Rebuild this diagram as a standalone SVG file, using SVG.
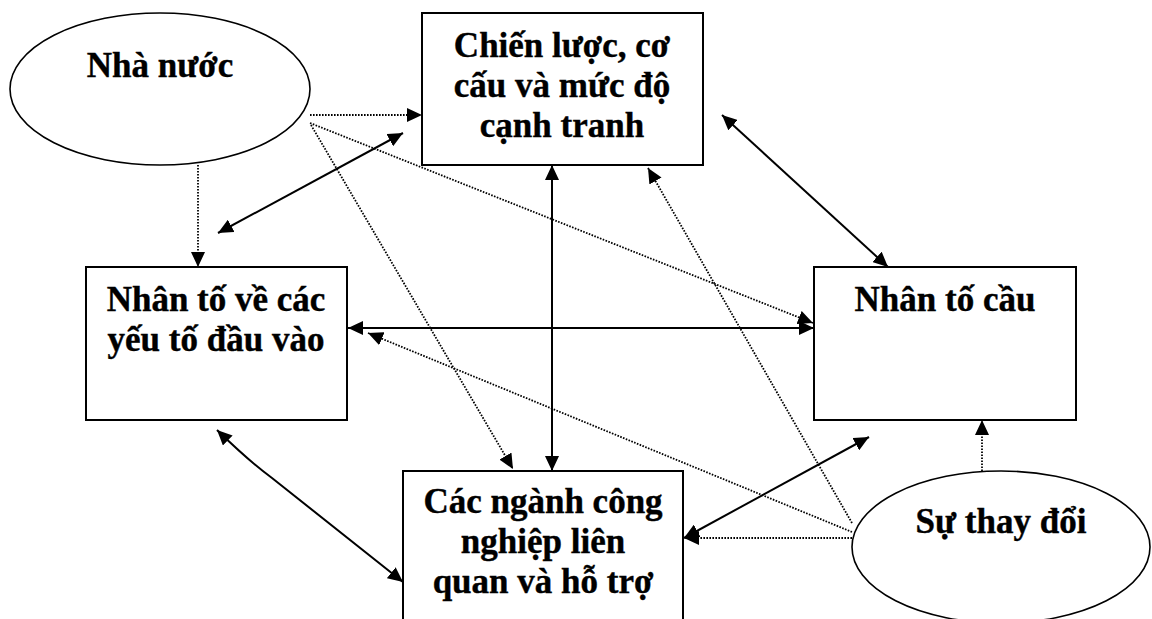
<svg xmlns="http://www.w3.org/2000/svg" width="1152" height="619" viewBox="0 0 1152 619">
  <style>
    .box { fill: #fff; stroke: #000; stroke-width: 2; }
    .oval { fill: #fff; stroke: #000; stroke-width: 1.6; }
    .lbl { font-family: "Liberation Serif", "Times New Roman", serif; font-weight: bold; font-size: 35px; fill: #000; stroke: #000; stroke-width: 0.4; text-anchor: middle; }
    .solid { fill: none; stroke: #000; stroke-width: 2; marker-start: url(#head); marker-end: url(#head); }
    .dot { fill: none; stroke: #000; stroke-width: 1.8; stroke-dasharray: 1.6 1.4; marker-end: url(#head); }
  </style>
  <defs>
    <marker id="head" markerUnits="userSpaceOnUse" markerWidth="16" markerHeight="14" refX="15" refY="7" orient="auto-start-reverse">
      <path d="M0,0 L15,7 L0,14 z" fill="#000" stroke="none"/>
    </marker>
  </defs>
  <rect width="1152" height="619" fill="#fff"/>

  <!-- nodes -->
  <g id="nha-nuoc">
    <ellipse class="oval" cx="160" cy="89" rx="150" ry="76"/>
    <text class="lbl" x="160" y="77">Nhà nước</text>
  </g>
  <g id="chien-luoc">
    <rect class="box" x="422" y="13" width="281" height="152"/>
    <text class="lbl" x="562" y="57">Chiến lược, cơ</text>
    <text class="lbl" x="562" y="97">cấu và mức độ</text>
    <text class="lbl" x="562" y="137">cạnh tranh</text>
  </g>
  <g id="dau-vao">
    <rect class="box" x="86" y="267" width="261" height="153"/>
    <text class="lbl" x="216" y="311">Nhân tố về các</text>
    <text class="lbl" x="216" y="351">yếu tố đầu vào</text>
  </g>
  <g id="cau">
    <rect class="box" x="814" y="267" width="262" height="153"/>
    <text class="lbl" x="945" y="311">Nhân tố cầu</text>
  </g>
  <g id="lien-quan">
    <rect class="box" x="403" y="471" width="280" height="170"/>
    <text class="lbl" x="543" y="513">Các ngành công</text>
    <text class="lbl" x="543" y="553">nghiệp liên</text>
    <text class="lbl" x="543" y="593">quan và hỗ trợ</text>
  </g>
  <g id="thay-doi">
    <ellipse class="oval" cx="1001" cy="547" rx="149" ry="76"/>
    <text class="lbl" x="1001" y="533">Sự thay đổi</text>
  </g>

  <!-- connectors -->
  <g id="connectors">
    <path class="dot" d="M310,115 L422,115"/>
    <path class="dot" d="M198,165 L198,267"/>
    <path class="dot" d="M310,123 L813,323"/>
    <path class="dot" d="M311,125 L513,469"/>
    <path class="dot" d="M852,523 L648,168"/>
    <path class="dot" d="M852,532 L368,333"/>
    <path class="dot" d="M852,538 L684,538"/>
    <path class="dot" d="M982,471 L982,420"/>

    <path class="solid" d="M218,233 L403,133"/>
    <path class="solid" d="M552,165 L552,471"/>
    <path class="solid" d="M348,328 L814,328"/>
    <path class="solid" d="M722,115 L888,267"/>
    <path class="solid" d="M684,538 L869,437"/>
    <path class="solid" d="M217,430 Q250,462 272,478 L403,582"/>
  </g>
</svg>
